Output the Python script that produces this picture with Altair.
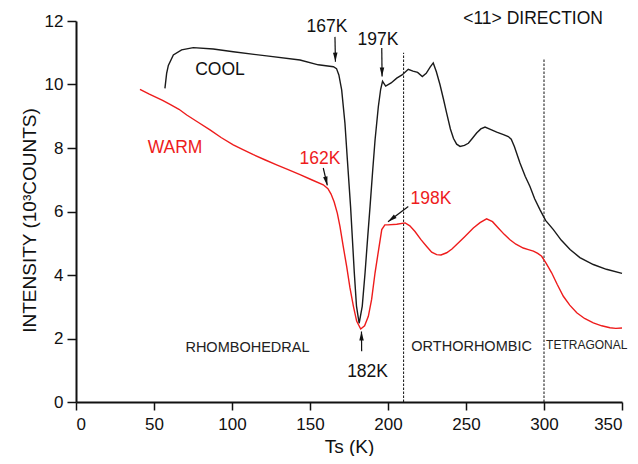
import math
import altair as alt
import pandas as pd

# ---- data ----
cool_T = [57, 58.1, 59.2, 62.4, 67.7, 75.2, 88, 100.8, 122.2, 143.6, 155.3, 165, 167, 168.5,
          170.3, 172.4, 174, 176, 178.4, 179.8, 181.5, 183.5, 185.3, 187, 188.5, 190.2, 191.7,
          193.8, 195.3, 196.5, 198.5, 202, 205.6, 209, 213, 216, 219, 222, 224.5, 227, 229,
          231, 233.3, 235.5, 237.6, 240, 242, 244, 246.2, 249, 251.5, 254, 256.8, 259.5, 262.2,
          266, 269.7, 274, 277.1, 279, 281, 284.6, 288, 291, 294, 297.4, 301, 306, 311, 316.7,
          323, 331.6, 340, 350]
cool_I = [9.88, 10.35, 10.6, 10.93, 11.09, 11.16, 11.12, 11.03, 10.9, 10.77, 10.62, 10.56, 10.5,
          10.3, 9.83, 8.78, 7.6, 6.16, 4.07, 3.02, 2.48, 3.02, 4.07, 5.2, 6.16, 7.3, 8.25, 9.3,
          9.85, 10.1, 9.95, 10.05, 10.2, 10.3, 10.48, 10.42, 10.38, 10.25, 10.35, 10.55, 10.68,
          10.4, 10.0, 9.55, 9.1, 8.6, 8.3, 8.12, 8.05, 8.08, 8.15, 8.3, 8.47, 8.6, 8.66, 8.58,
          8.5, 8.42, 8.36, 8.28, 8.05, 7.53, 7.1, 6.79, 6.4, 6.06, 5.72, 5.43, 5.1, 4.8, 4.55,
          4.33, 4.18, 4.05]

warm_T = [41, 47, 55.5, 60, 66, 71, 78, 85.9, 93, 100.8, 107, 113.7, 121, 128.6, 136, 143.6,
          151, 158.5, 161.5, 163.5, 165.5, 167.5, 169.2, 171.3, 173.5, 175.6, 177.8, 179.9,
          182.5, 185, 187.4, 189.5, 191.7, 194, 196, 198, 200, 205.6, 211, 214, 217.3, 221,
          224.8, 228, 231.2, 234, 237.6, 241, 244, 249, 254.7, 259, 263.2, 267, 270.7, 274.5,
          278.2, 282, 286.7, 290, 293.2, 296, 298.5, 301.5, 304.9, 308.5, 312.4, 316.5, 321,
          326, 331.6, 337, 342.3, 346, 350]
warm_I = [9.85, 9.7, 9.5, 9.38, 9.22, 9.04, 8.82, 8.57, 8.33, 8.1, 7.95, 7.79, 7.63, 7.47,
          7.32, 7.16, 7.0, 6.84, 6.72, 6.55, 6.3, 5.95, 5.53, 4.9, 4.27, 3.6, 3.02, 2.55, 2.3,
          2.4, 2.7, 3.23, 4.07, 4.8, 5.43, 5.58, 5.58, 5.6, 5.64, 5.55, 5.37, 5.12, 4.9, 4.72,
          4.64, 4.63, 4.7, 4.82, 4.96, 5.2, 5.48, 5.65, 5.77, 5.68, 5.48, 5.28, 5.11, 4.97,
          4.85, 4.8, 4.75, 4.68, 4.59, 4.36, 4.07, 3.7, 3.33, 3.05, 2.81, 2.63, 2.49, 2.4,
          2.34, 2.32, 2.33]

phase_T = [210, 300]
phase_top = [11.0, 10.8]

label_text = ["167K", "197K", "162K", "198K", "182K", "COOL", "WARM", "<11> DIRECTION",
              "RHOMBOHEDRAL", "ORTHORHOMBIC", "TETRAGONAL"]
label_T = [160.9, 193.6, 156.4, 227.6, 186.9, 92.3, 63.5, 293, 109.9, 253.6, 327.4]
label_I = [11.81, 11.4, 7.66, 6.4, 0.95, 10.46, 8.0, 12.07, 1.69, 1.73, 1.81]
label_color = ["#111111", "#111111", "#ee1c1c", "#ee1c1c", "#111111", "#111111", "#ee1c1c",
               "#111111", "#222222", "#222222", "#222222"]
label_size = [17.5, 17.5, 17.5, 17.5, 17.5, 17.5, 17.5, 17.5, 14.5, 14.5, 12]

arrow_T0 = [166, 196, 158.5, 213, 183.1]
arrow_I0 = [11.5, 11.15, 7.37, 6.16, 1.6]
arrow_T1 = [166.3, 196.2, 161.1, 200, 183.0]
arrow_I1 = [10.72, 10.25, 6.82, 5.68, 2.22]

x_ticks = list(range(0, 351, 25))
y_ticks = list(range(0, 13, 1))

# ---- tables ----
W, H = 546, 381
XMAX, YMAX = 350, 12
curves = pd.concat([
    pd.DataFrame({"T": cool_T, "I": cool_I, "run": "COOL"}),
    pd.DataFrame({"T": warm_T, "I": warm_I, "run": "WARM"}),
])
phases = pd.DataFrame({"T": phase_T, "lo": 0, "hi": phase_top})
labels = pd.DataFrame({"txt": label_text, "T": label_T, "I": label_I,
                       "col": label_color, "fs": label_size})

seg_rows, head_rows = [], []
for k in range(len(arrow_T0)):
    seg_rows.append({"id": k, "o": 0, "T": arrow_T0[k], "I": arrow_I0[k]})
    seg_rows.append({"id": k, "o": 1, "T": arrow_T1[k], "I": arrow_I1[k]})
    dx = (arrow_T1[k] - arrow_T0[k]) * W / XMAX
    dy = -(arrow_I1[k] - arrow_I0[k]) * H / YMAX
    ang = math.degrees(math.atan2(dx, -dy)) % 360
    head_rows.append({"T": arrow_T1[k], "I": arrow_I1[k], "ang": ang})
segs = pd.DataFrame(seg_rows)
heads = pd.DataFrame(head_rows)

FONT = "Liberation Sans"
xs = alt.Scale(domain=[0, XMAX], nice=False, zero=False)
ys = alt.Scale(domain=[0, YMAX], nice=False, zero=False)

x_axis = alt.Axis(
    values=x_ticks, title="Ts (K)",
    labelExpr="datum.value % 50 === 0 ? datum.label : ''",
    tickSize={"condition": {"test": "datum.value % 50 === 0", "value": 8}, "value": 5},
    labelPadding=6, labelFontSize=17, labelFont=FONT, labelColor="#111111",
    titleFontSize=19, titleFont=FONT, titleFontWeight="normal", titleColor="#111111",
    titleBaseline="alphabetic", titleY=50,
    domainColor="#111111", domainWidth=2, tickColor="#111111", tickWidth=1.5,
    grid=False,
)
y_axis = alt.Axis(
    values=y_ticks, title="INTENSITY (10³COUNTS)",
    labelExpr="datum.value % 2 === 0 ? datum.label : ''",
    tickSize={"condition": {"test": "datum.value % 2 === 0", "value": 9}, "value": 5},
    labelPadding=4, labelFontSize=17, labelFont=FONT, labelColor="#111111",
    titleFontSize=19, titleFont=FONT, titleFontWeight="normal", titleColor="#111111",
    titleBaseline="alphabetic", titleAngle=270, titleAlign="center",
    titleX=-41, titleY=199,
    domainColor="#111111", domainWidth=2, tickColor="#111111", tickWidth=1.5,
    grid=False,
)

lines = alt.Chart(curves).mark_line(strokeWidth=1.4, clip=False).encode(
    x=alt.X("T:Q", scale=xs, axis=x_axis),
    y=alt.Y("I:Q", scale=ys, axis=y_axis),
    color=alt.Color("run:N", scale=alt.Scale(domain=["COOL", "WARM"],
                                             range=["#1a1a1a", "#ee1c1c"]), legend=None),
    detail="run:N",
)

rules = alt.Chart(phases).mark_rule(strokeDash=[2.5, 1.5], strokeWidth=1, color="#111111").encode(
    x=alt.X("T:Q", scale=xs), y=alt.Y("lo:Q", scale=ys), y2="hi:Q",
)

arrow_lines = alt.Chart(segs).mark_line(strokeWidth=1.2, color="#111111").encode(
    x=alt.X("T:Q", scale=xs), y=alt.Y("I:Q", scale=ys), detail="id:N", order="o:Q",
)
arrow_heads = alt.Chart(heads).mark_point(
    shape="M0,0L-0.45,1.8L0.45,1.8Z", filled=True, size=100, color="#111111", opacity=1,
    strokeWidth=0,
).encode(
    x=alt.X("T:Q", scale=xs), y=alt.Y("I:Q", scale=ys),
    angle=alt.Angle("ang:Q", scale=None),
)

texts = alt.Chart(labels).mark_text(font=FONT, align="center", baseline="middle").encode(
    x=alt.X("T:Q", scale=xs), y=alt.Y("I:Q", scale=ys),
    text="txt:N",
    color=alt.Color("col:N", scale=None),
    size=alt.Size("fs:Q", scale=None),
)

chart = alt.layer(rules, lines, arrow_lines, arrow_heads, texts).properties(
    width=W, height=H,
    autosize=alt.AutoSizeParams(type="none"),
    padding={"left": 68, "top": 13, "right": 8, "bottom": 54},
    background="white",
).configure_view(stroke=None)

chart.save("out.html", embed_options={"renderer": "svg", "actions": False})
